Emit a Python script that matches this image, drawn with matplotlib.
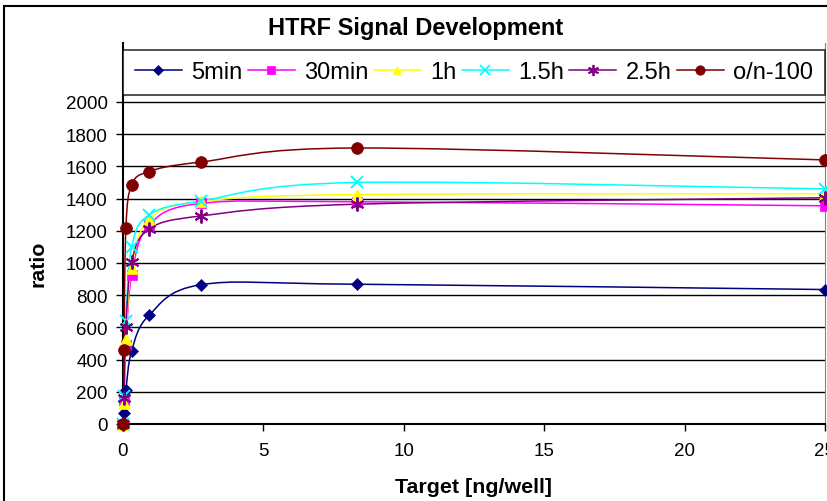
import numpy as np
import matplotlib
matplotlib.use("Agg")
import matplotlib.pyplot as plt
from matplotlib.path import Path
from matplotlib.patches import PathPatch, Rectangle
from matplotlib.lines import Line2D

plt.rcParams['font.family'] = ['Liberation Sans', 'DejaVu Sans']

# target amount per well (3-fold dilution series)
target = [0, 0.034, 0.103, 0.309, 0.926, 2.78, 8.33, 25]

labels = ['5min', '30min', '1h', '1.5h', '2.5h', 'o/n-100']
ratio_5min = [0, 70, 210, 455, 675, 865, 868, 835]
ratio_30min = [0, 150, 490, 925, 1235, 1370, 1380, 1355]
ratio_1h = [0, 130, 530, 970, 1270, 1382, 1425, 1430]
ratio_15h = [0, 175, 640, 1100, 1298, 1385, 1500, 1460]
ratio_25h = [0, 160, 600, 1008, 1210, 1292, 1365, 1405]
ratio_on = [0, 460, 1217, 1484, 1568, 1627, 1714, 1640]

series = [ratio_5min, ratio_30min, ratio_1h, ratio_15h, ratio_25h, ratio_on]
colors = ['#000080', '#FF00FF', '#FFFF00', '#00FFFF', '#800080', '#800000']
markers = ['D', 's', '^', 'x', (6, 2, 0), 'o']
msizes = [6.5, 6.5, 8, 9, 10, 8.5]

YMAX = 2366


def smooth_path(xs, ys):
    # Excel-style smoothed line: cubic Bezier through every point
    p = np.column_stack([xs, ys]).astype(float)
    n = len(p)
    verts = [p[0]]
    codes = [Path.MOVETO]
    for i in range(n - 1):
        prev = p[i - 1] if i > 0 else p[i]
        nxt = p[i + 2] if i + 2 < n else p[i + 1]
        c1 = p[i] + (p[i + 1] - prev) / 6.0
        c2 = p[i + 1] - (nxt - p[i]) / 6.0
        verts += [c1, c2, p[i + 1]]
        codes += [Path.CURVE4] * 3
    return Path(verts, codes)


fig = plt.figure(figsize=(8.28, 5.02), dpi=100)
ax = fig.add_axes([123 / 828, 77 / 502, 702 / 828, 381 / 502])

for ys, c, m, ms in zip(series, colors, markers, msizes):
    ax.add_patch(PathPatch(smooth_path(target, ys), facecolor='none',
                           edgecolor=c, lw=1.1, zorder=3))
    ax.plot(target, ys, ls='none', marker=m, color=c, markersize=ms,
            markeredgewidth=1.4 if m in ('x', (6, 2, 0)) else 0.5,
            markeredgecolor=c, zorder=4, clip_on=False)

ax.set_xlim(0, 25)
ax.set_ylim(0, YMAX)
ax.set_xticks([0, 5, 10, 15, 20, 25])
ax.set_yticks(np.arange(0, 2001, 200))
ax.tick_params(axis='both', direction='out', length=5, width=1,
               labelsize=13.5, colors='black')
ax.tick_params(axis='y', pad=6)
ax.tick_params(axis='x', pad=8)
for yv in range(200, 2001, 200):
    ax.axhline(yv, color='black', lw=1, zorder=1)

for s in ['left', 'bottom']:
    ax.spines[s].set_linewidth(1.5)
ax.spines['right'].set_color('#808080')
ax.spines['top'].set_visible(False)

ax.set_xlabel('Target [ng/well]', fontsize=15.4, fontweight='bold')
ax.xaxis.set_label_coords(0.5, -0.138)
ax.set_ylabel('ratio', fontsize=15.4, fontweight='bold')
ax.yaxis.set_label_coords(-0.108, 1000 / YMAX)

handles = [Line2D([], [], color=c, marker=m, markersize=ms * 0.8, lw=1.1,
                  markeredgewidth=1.3 if m in ('x', (6, 2, 0)) else 0.5)
           for c, m, ms in zip(colors, markers, msizes)]
leg = ax.legend(handles, labels, ncol=6, loc='center',
                bbox_to_anchor=(0, 2000 / YMAX, 1, 1 - 2000 / YMAX),
                mode='expand', fontsize=17, frameon=True, fancybox=False,
                handlelength=2.0, handletextpad=0.4, columnspacing=0.5,
                borderaxespad=0, borderpad=0.5)
leg.get_frame().set_edgecolor('black')
leg.get_frame().set_linewidth(1.2)

fig.text(0.502, 0.944, 'HTRF Signal Development', ha='center', va='center',
         fontsize=17, fontweight='bold')

fig.patches.append(Rectangle((4 / 828, -0.1), 1.2, 1.1 - 7 / 502,
                             transform=fig.transFigure, fill=False,
                             edgecolor='black', lw=1.5))

fig.savefig('out.png', dpi=100)
